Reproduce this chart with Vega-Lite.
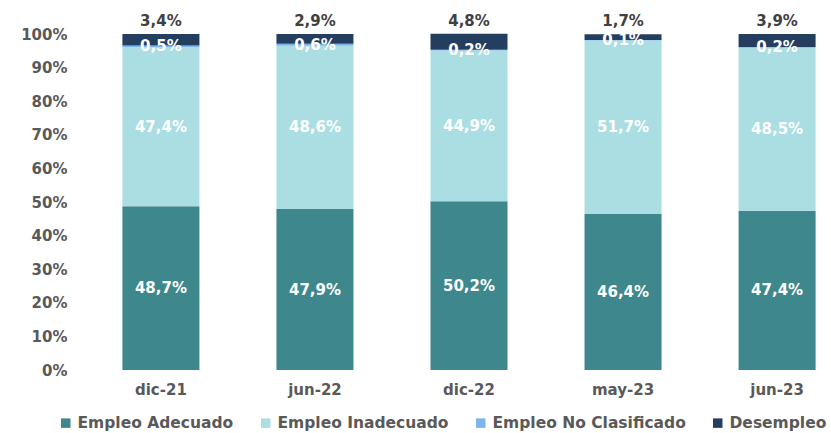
{
  "$schema": "https://vega.github.io/schema/vega-lite/v6.json",
  "autosize": {"type": "none"},
  "padding": {"left": 107, "top": 34, "right": 0, "bottom": 63},
  "width": 724,
  "height": 336,
  "config": {
    "locale": {"number": {"decimal": ",", "thousands": ".", "grouping": [3], "currency": ["", " €"]}},
    "view": {"stroke": null},
    "font": "DejaVu Sans",
    "axisY": {"title": null, "format": ".0%", "values": [0, 0.1, 0.2, 0.3, 0.4, 0.5, 0.6, 0.7, 0.8, 0.9, 1],
              "labelOverlap": false, "labelBound": false, "labelFlush": false,
              "grid": false, "domain": false, "ticks": false, "labelPadding": 40,
              "labelFont": "DejaVu Sans", "labelFontWeight": "bold", "labelFontSize": 15, "labelColor": "#595959"}
  },
  "data": {
    "values": [
      {"periodo": "dic-21", "serie": "Empleo Adecuado", "orden": 1, "pct": 0.487},
      {"periodo": "dic-21", "serie": "Empleo Inadecuado", "orden": 2, "pct": 0.474},
      {"periodo": "dic-21", "serie": "Empleo No Clasificado", "orden": 3, "pct": 0.005},
      {"periodo": "dic-21", "serie": "Desempleo", "orden": 4, "pct": 0.034},
      {"periodo": "jun-22", "serie": "Empleo Adecuado", "orden": 1, "pct": 0.479},
      {"periodo": "jun-22", "serie": "Empleo Inadecuado", "orden": 2, "pct": 0.486},
      {"periodo": "jun-22", "serie": "Empleo No Clasificado", "orden": 3, "pct": 0.006},
      {"periodo": "jun-22", "serie": "Desempleo", "orden": 4, "pct": 0.029},
      {"periodo": "dic-22", "serie": "Empleo Adecuado", "orden": 1, "pct": 0.502},
      {"periodo": "dic-22", "serie": "Empleo Inadecuado", "orden": 2, "pct": 0.449},
      {"periodo": "dic-22", "serie": "Empleo No Clasificado", "orden": 3, "pct": 0.002},
      {"periodo": "dic-22", "serie": "Desempleo", "orden": 4, "pct": 0.048},
      {"periodo": "may-23", "serie": "Empleo Adecuado", "orden": 1, "pct": 0.464},
      {"periodo": "may-23", "serie": "Empleo Inadecuado", "orden": 2, "pct": 0.517},
      {"periodo": "may-23", "serie": "Empleo No Clasificado", "orden": 3, "pct": 0.001},
      {"periodo": "may-23", "serie": "Desempleo", "orden": 4, "pct": 0.017},
      {"periodo": "jun-23", "serie": "Empleo Adecuado", "orden": 1, "pct": 0.474},
      {"periodo": "jun-23", "serie": "Empleo Inadecuado", "orden": 2, "pct": 0.485},
      {"periodo": "jun-23", "serie": "Empleo No Clasificado", "orden": 3, "pct": 0.002},
      {"periodo": "jun-23", "serie": "Desempleo", "orden": 4, "pct": 0.039}
    ]
  },
  "transform": [
    {"stack": "pct", "groupby": ["periodo"], "sort": [{"field": "orden", "order": "ascending"}], "as": ["y0", "y1"]},
    {"calculate": "(datum.y0 + datum.y1) / 2", "as": "ymid"}
  ],
  "encoding": {
    "x": {
      "field": "periodo", "type": "nominal",
      "sort": ["dic-21", "jun-22", "dic-22", "may-23", "jun-23"],
      "scale": {"paddingInner": 0.5, "paddingOuter": 0.1},
      "axis": {"title": null, "labelAngle": 0, "domain": false, "ticks": false, "labelPadding": 12,
               "labelFont": "DejaVu Sans", "labelFontWeight": "bold", "labelFontSize": 15, "labelColor": "#595959"}
    }
  },
  "layer": [
    {
      "mark": {"type": "bar"},
      "encoding": {
        "y": {"field": "y1", "type": "quantitative", "title": null,
              "scale": {"domain": [0, 1], "nice": false}},
        "y2": {"field": "y0"},
        "color": {
          "field": "serie", "type": "nominal",
          "scale": {
            "domain": ["Empleo Adecuado", "Empleo Inadecuado", "Empleo No Clasificado", "Desempleo"],
            "range": ["#3E878C", "#ABDEE2", "#7DB4EA", "#243E5F"]
          },
          "legend": {
            "title": null, "orient": "none", "direction": "horizontal",
            "legendX": -49, "legendY": 381, "padding": 0, "offset": 0,
            "symbolType": "square", "symbolSize": 90, "symbolStrokeWidth": 0,
            "labelFont": "DejaVu Sans", "labelFontWeight": "bold", "labelFontSize": 15.5, "labelColor": "#595959",
            "labelOffset": 4, "columnPadding": 24, "labelLimit": 300
          }
        }
      }
    },
    {
      "transform": [{"filter": "datum.serie != 'Desempleo'"}],
      "mark": {"type": "text", "color": "white", "fontWeight": "bold", "fontSize": 15, "font": "DejaVu Sans", "baseline": "middle"},
      "encoding": {
        "y": {"field": "ymid", "type": "quantitative", "title": null},
        "text": {"field": "pct", "type": "quantitative", "format": ".1%"}
      }
    },
    {
      "transform": [{"filter": "datum.serie == 'Desempleo'"}],
      "mark": {"type": "text", "color": "#404040", "fontWeight": "bold", "fontSize": 15, "font": "DejaVu Sans", "baseline": "middle", "dy": -13},
      "encoding": {
        "y": {"field": "y1", "type": "quantitative", "title": null},
        "text": {"field": "pct", "type": "quantitative", "format": ".1%"}
      }
    }
  ]
}
